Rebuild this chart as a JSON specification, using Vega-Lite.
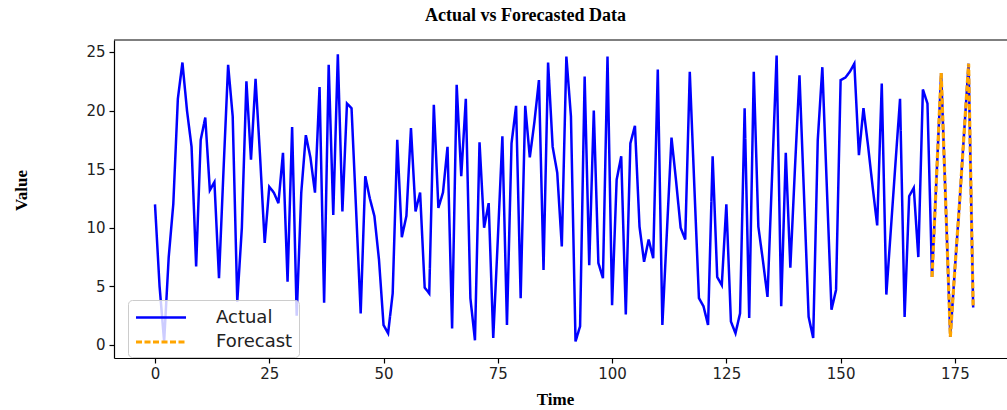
{
  "$schema": "https://vega.github.io/schema/vega-lite/v6.json",
  "autosize": "none",
  "width": 893,
  "height": 318,
  "padding": {"left": 114, "top": 40, "right": 0, "bottom": 52},
  "background": "white",
  "config": {"view": {"stroke": null}},
  "title": {"text": "Actual vs Forecasted Data", "font": "Liberation Serif", "fontSize": 18, "fontWeight": "bold", "color": "#000", "anchor": "middle", "dx": -35, "offset": 14},
  "layer": [
    {
      "data": {"values": [
        {"t":0,"v":12,"series":"Actual"},{"t":1,"v":5,"series":"Actual"},{"t":2,"v":0.3,"series":"Actual"},{"t":3,"v":7.5,"series":"Actual"},{"t":4,"v":12,"series":"Actual"},{"t":5,"v":21,"series":"Actual"},{"t":6,"v":24.1,"series":"Actual"},{"t":7,"v":20,"series":"Actual"},{"t":8,"v":16.9,"series":"Actual"},{"t":9,"v":6.7,"series":"Actual"},
        {"t":10,"v":17.5,"series":"Actual"},{"t":11,"v":19.4,"series":"Actual"},{"t":12,"v":13.2,"series":"Actual"},{"t":13,"v":13.9,"series":"Actual"},{"t":14,"v":5.7,"series":"Actual"},{"t":15,"v":15,"series":"Actual"},{"t":16,"v":23.9,"series":"Actual"},{"t":17,"v":19.5,"series":"Actual"},{"t":18,"v":3.7,"series":"Actual"},{"t":19,"v":10,"series":"Actual"},
        {"t":20,"v":22.5,"series":"Actual"},{"t":21,"v":15.8,"series":"Actual"},{"t":22,"v":22.7,"series":"Actual"},{"t":23,"v":16,"series":"Actual"},{"t":24,"v":8.7,"series":"Actual"},{"t":25,"v":13.5,"series":"Actual"},{"t":26,"v":13,"series":"Actual"},{"t":27,"v":12.1,"series":"Actual"},{"t":28,"v":16.4,"series":"Actual"},{"t":29,"v":5.4,"series":"Actual"},
        {"t":30,"v":18.6,"series":"Actual"},{"t":31,"v":2.5,"series":"Actual"},{"t":32,"v":13,"series":"Actual"},{"t":33,"v":17.9,"series":"Actual"},{"t":34,"v":16,"series":"Actual"},{"t":35,"v":13,"series":"Actual"},{"t":36,"v":22,"series":"Actual"},{"t":37,"v":3.6,"series":"Actual"},{"t":38,"v":23.9,"series":"Actual"},{"t":39,"v":11.1,"series":"Actual"},
        {"t":40,"v":24.8,"series":"Actual"},{"t":41,"v":11.4,"series":"Actual"},{"t":42,"v":20.6,"series":"Actual"},{"t":43,"v":20.2,"series":"Actual"},{"t":44,"v":11.5,"series":"Actual"},{"t":45,"v":2.7,"series":"Actual"},{"t":46,"v":14.4,"series":"Actual"},{"t":47,"v":12.5,"series":"Actual"},{"t":48,"v":11,"series":"Actual"},{"t":49,"v":7.3,"series":"Actual"},
        {"t":50,"v":1.7,"series":"Actual"},{"t":51,"v":1.0,"series":"Actual"},{"t":52,"v":4.4,"series":"Actual"},{"t":53,"v":17.5,"series":"Actual"},{"t":54,"v":9.2,"series":"Actual"},{"t":55,"v":11,"series":"Actual"},{"t":56,"v":18.5,"series":"Actual"},{"t":57,"v":11.4,"series":"Actual"},{"t":58,"v":13,"series":"Actual"},{"t":59,"v":4.9,"series":"Actual"},
        {"t":60,"v":4.4,"series":"Actual"},{"t":61,"v":20.5,"series":"Actual"},{"t":62,"v":11.7,"series":"Actual"},{"t":63,"v":13,"series":"Actual"},{"t":64,"v":16.9,"series":"Actual"},{"t":65,"v":1.4,"series":"Actual"},{"t":66,"v":22.2,"series":"Actual"},{"t":67,"v":14.4,"series":"Actual"},{"t":68,"v":21,"series":"Actual"},{"t":69,"v":4,"series":"Actual"},
        {"t":70,"v":0.4,"series":"Actual"},{"t":71,"v":17.3,"series":"Actual"},{"t":72,"v":10,"series":"Actual"},{"t":73,"v":12.1,"series":"Actual"},{"t":74,"v":0.6,"series":"Actual"},{"t":75,"v":9,"series":"Actual"},{"t":76,"v":17.8,"series":"Actual"},{"t":77,"v":1.7,"series":"Actual"},{"t":78,"v":17.2,"series":"Actual"},{"t":79,"v":20.4,"series":"Actual"},
        {"t":80,"v":4,"series":"Actual"},{"t":81,"v":20.4,"series":"Actual"},{"t":82,"v":16,"series":"Actual"},{"t":83,"v":19,"series":"Actual"},{"t":84,"v":22.6,"series":"Actual"},{"t":85,"v":6.4,"series":"Actual"},{"t":86,"v":24.1,"series":"Actual"},{"t":87,"v":16.9,"series":"Actual"},{"t":88,"v":14.7,"series":"Actual"},{"t":89,"v":8.4,"series":"Actual"},
        {"t":90,"v":24.6,"series":"Actual"},{"t":91,"v":19.5,"series":"Actual"},{"t":92,"v":0.3,"series":"Actual"},{"t":93,"v":1.6,"series":"Actual"},{"t":94,"v":22.9,"series":"Actual"},{"t":95,"v":6.8,"series":"Actual"},{"t":96,"v":20,"series":"Actual"},{"t":97,"v":7,"series":"Actual"},{"t":98,"v":5.7,"series":"Actual"},{"t":99,"v":24.6,"series":"Actual"},
        {"t":100,"v":3.4,"series":"Actual"},{"t":101,"v":14.1,"series":"Actual"},{"t":102,"v":16.1,"series":"Actual"},{"t":103,"v":2.6,"series":"Actual"},{"t":104,"v":17.2,"series":"Actual"},{"t":105,"v":18.7,"series":"Actual"},{"t":106,"v":10.1,"series":"Actual"},{"t":107,"v":7.1,"series":"Actual"},{"t":108,"v":9,"series":"Actual"},{"t":109,"v":7.4,"series":"Actual"},
        {"t":110,"v":23.5,"series":"Actual"},{"t":111,"v":1.7,"series":"Actual"},{"t":112,"v":9.7,"series":"Actual"},{"t":113,"v":17.7,"series":"Actual"},{"t":114,"v":14,"series":"Actual"},{"t":115,"v":10,"series":"Actual"},{"t":116,"v":9,"series":"Actual"},{"t":117,"v":23.3,"series":"Actual"},{"t":118,"v":13.5,"series":"Actual"},{"t":119,"v":4,"series":"Actual"},
        {"t":120,"v":3.3,"series":"Actual"},{"t":121,"v":1.7,"series":"Actual"},{"t":122,"v":16.1,"series":"Actual"},{"t":123,"v":5.8,"series":"Actual"},{"t":124,"v":5.1,"series":"Actual"},{"t":125,"v":12,"series":"Actual"},{"t":126,"v":2,"series":"Actual"},{"t":127,"v":1,"series":"Actual"},{"t":128,"v":2.7,"series":"Actual"},{"t":129,"v":20.2,"series":"Actual"},
        {"t":130,"v":2.3,"series":"Actual"},{"t":131,"v":23.3,"series":"Actual"},{"t":132,"v":10.1,"series":"Actual"},{"t":133,"v":7.2,"series":"Actual"},{"t":134,"v":4.1,"series":"Actual"},{"t":135,"v":14.4,"series":"Actual"},{"t":136,"v":24.7,"series":"Actual"},{"t":137,"v":3.3,"series":"Actual"},{"t":138,"v":16.4,"series":"Actual"},{"t":139,"v":6.6,"series":"Actual"},
        {"t":140,"v":15,"series":"Actual"},{"t":141,"v":23,"series":"Actual"},{"t":142,"v":12.7,"series":"Actual"},{"t":143,"v":2.4,"series":"Actual"},{"t":144,"v":0.6,"series":"Actual"},{"t":145,"v":17.5,"series":"Actual"},{"t":146,"v":23.7,"series":"Actual"},{"t":147,"v":13.3,"series":"Actual"},{"t":148,"v":3,"series":"Actual"},{"t":149,"v":4.7,"series":"Actual"},
        {"t":150,"v":22.6,"series":"Actual"},{"t":151,"v":22.8,"series":"Actual"},{"t":152,"v":23.3,"series":"Actual"},{"t":153,"v":24,"series":"Actual"},{"t":154,"v":16.2,"series":"Actual"},{"t":155,"v":20.2,"series":"Actual"},{"t":156,"v":17,"series":"Actual"},{"t":157,"v":13.5,"series":"Actual"},{"t":158,"v":10.2,"series":"Actual"},{"t":159,"v":22.3,"series":"Actual"},
        {"t":160,"v":4.3,"series":"Actual"},{"t":161,"v":9.9,"series":"Actual"},{"t":162,"v":15.5,"series":"Actual"},{"t":163,"v":21,"series":"Actual"},{"t":164,"v":2.4,"series":"Actual"},{"t":165,"v":12.7,"series":"Actual"},{"t":166,"v":13.4,"series":"Actual"},{"t":167,"v":7.5,"series":"Actual"},{"t":168,"v":21.8,"series":"Actual"},{"t":169,"v":20.6,"series":"Actual"},
        {"t":170,"v":5.8,"series":"Actual"},{"t":171,"v":14.5,"series":"Actual"},{"t":172,"v":23.2,"series":"Actual"},{"t":173,"v":12,"series":"Actual"},{"t":174,"v":0.7,"series":"Actual"},{"t":175,"v":6.5,"series":"Actual"},{"t":176,"v":12,"series":"Actual"},{"t":177,"v":18,"series":"Actual"},{"t":178,"v":24,"series":"Actual"},{"t":179,"v":3.2,"series":"Actual"},
        {"t":170,"v":5.8,"series":"Forecast"},{"t":171,"v":14.5,"series":"Forecast"},{"t":172,"v":23.2,"series":"Forecast"},{"t":173,"v":12,"series":"Forecast"},{"t":174,"v":0.7,"series":"Forecast"},{"t":175,"v":6.5,"series":"Forecast"},{"t":176,"v":12,"series":"Forecast"},{"t":177,"v":18,"series":"Forecast"},{"t":178,"v":24,"series":"Forecast"},{"t":179,"v":3.2,"series":"Forecast"}
      ]},
      "mark": {"type": "line", "strokeJoin": "miter", "strokeCap": "butt"},
      "encoding": {
        "x": {"field": "t", "type": "quantitative", "scale": {"domain": [-8.97, 186.4], "nice": false, "zero": false},
          "axis": {"values": [0, 25, 50, 75, 100, 125, 150, 175], "grid": false, "title": "Time", "titleFont": "Liberation Serif", "titleFontSize": 17, "titleFontWeight": "bold", "titleColor": "#000", "titleX": 441, "titleY": 33, "titleBaseline": "top", "titleAnchor": "middle",
            "labelFont": "DejaVu Sans", "labelFontSize": 15, "labelColor": "#222", "labelPadding": 3, "tickColor": "#000", "tickSize": 5, "tickWidth": 1.2, "domainColor": "#000", "domainWidth": 1.2, "labelFlush": false}},
        "y": {"field": "v", "type": "quantitative", "scale": {"domain": [-1.11, 26.02], "nice": false, "zero": false},
          "axis": {"values": [0, 5, 10, 15, 20, 25], "grid": false, "title": "Value", "titleFont": "Liberation Serif", "titleFontSize": 17, "titleFontWeight": "bold", "titleColor": "#000", "titleX": -84, "titleY": 150, "titleAngle": -90, "titleAlign": "center", "titleBaseline": "bottom",
            "labelFont": "DejaVu Sans", "labelFontSize": 15, "labelColor": "#222", "labelPadding": 4, "tickColor": "#000", "tickSize": 5, "tickWidth": 1.2, "domainColor": "#000", "domainWidth": 1.2, "labelFlush": false}},
        "color": {"field": "series", "type": "nominal", "scale": {"domain": ["Actual", "Forecast"], "range": ["#0000ff", "#ffa500"]},
          "legend": {"title": null, "orient": "none", "legendX": 14, "legendY": 260, "fillColor": "rgba(255,255,255,0.8)", "strokeColor": "#cccccc", "cornerRadius": 4, "padding": 6, "labelFont": "DejaVu Sans", "labelFontSize": 18, "labelColor": "#222", "symbolType": "M-1,0L4,0", "symbolSize": 400, "symbolStrokeWidth": 2.5, "labelOffset": 58, "rowPadding": 3}},
        "strokeDash": {"field": "series", "type": "nominal", "scale": {"domain": ["Actual", "Forecast"], "range": [[1, 0], [6, 2.5]]},
          "legend": {"title": null, "orient": "none", "legendX": 14, "legendY": 260, "fillColor": "rgba(255,255,255,0.8)", "strokeColor": "#cccccc", "cornerRadius": 4, "padding": 6, "labelFont": "DejaVu Sans", "labelFontSize": 18, "labelColor": "#222", "symbolType": "M-1,0L4,0", "symbolSize": 400, "symbolStrokeWidth": 2.5, "labelOffset": 58, "rowPadding": 3}},
        "strokeWidth": {"field": "series", "type": "nominal", "scale": {"domain": ["Actual", "Forecast"], "range": [2.5, 3.2]}, "legend": null}
      }
    },
    {
      "data": {"values": [{"top": 26.02}]},
      "mark": {"type": "rule", "color": "#000", "strokeWidth": 1.2},
      "encoding": {"y": {"field": "top", "type": "quantitative"}}
    }
  ]
}
